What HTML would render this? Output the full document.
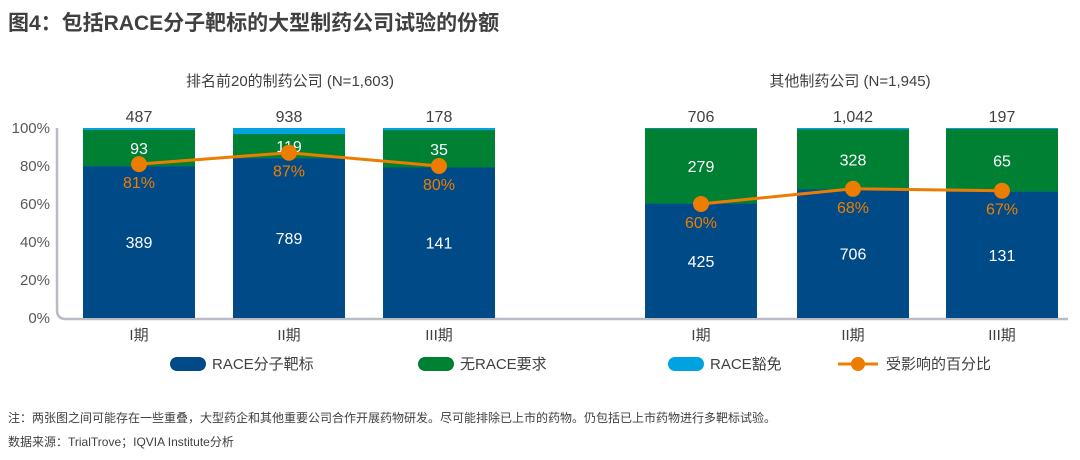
<!DOCTYPE html>
<html><head><meta charset="utf-8"><style>
body{margin:0;width:1080px;height:455px;background:#fff;overflow:hidden;font-family:"Liberation Sans","Noto Sans CJK SC",sans-serif}
svg text{font-family:"Liberation Sans","Noto Sans CJK SC",sans-serif}
</style></head><body>
<svg id="c" width="1080" height="455">
<text x="8" y="30" font-size="21" font-weight="bold" fill="#404040">图4：包括RACE分子靶标的大型制药公司试验的份额</text>
<text x="290" y="86" font-size="15" fill="#404040" text-anchor="middle">排名前20的制药公司 (N=1,603)</text>
<text x="850" y="86" font-size="15" fill="#404040" text-anchor="middle">其他制药公司 (N=1,945)</text>
<path d="M57,128 V310 Q57,319 66,319 H1068" stroke="#b8bcc4" stroke-width="2.5" fill="none"/>
<g id="g"></g>
<g>
<rect x="170" y="357" width="36" height="14" rx="7" fill="#004b87"/>
<text x="212" y="369" font-size="15" fill="#404040">RACE分子靶标</text>
<rect x="418" y="357" width="36" height="14" rx="7" fill="#008033"/>
<text x="460" y="369" font-size="15" fill="#404040">无RACE要求</text>
<rect x="668" y="357" width="36" height="14" rx="7" fill="#00a3e0"/>
<text x="710" y="369" font-size="15" fill="#404040">RACE豁免</text>
<line x1="838" y1="364" x2="878" y2="364" stroke="#ed7d00" stroke-width="3"/>
<circle cx="858" cy="364" r="7" fill="#ed7d00"/>
<text x="886" y="369" font-size="15" fill="#404040">受影响的百分比</text>
</g>
<text x="8" y="422" font-size="12" fill="#404040">注：两张图之间可能存在一些重叠，大型药企和其他重要公司合作开展药物研发。尽可能排除已上市的药物。仍包括已上市药物进行多靶标试验。</text>
<text x="8" y="446" font-size="12" fill="#404040">数据来源：TrialTrove；IQVIA Institute分析</text>
</svg>
<script>
const categories=["I期","II期","III期"];
const yTicks=[0,20,40,60,80,100];
const leftTotals=[487,938,178];
const leftRace=[389,789,141];
const leftNone=[93,119,35];
const leftPct=[81,87,80];
const rightTotals=[706,1042,197];
const rightRace=[425,706,131];
const rightNone=[279,328,65];
const rightPct=[60,68,67];
const leftBarX=[83,233,383], rightBarX=[645,797,946], barW=112;
const NS="http://www.w3.org/2000/svg", g=document.getElementById('g');
const y0=318, y100=128;
function y(p){return y0-(y0-y100)*p/100;}
function mk(t,a,txt){const e=document.createElementNS(NS,t);for(const k in a)e.setAttribute(k,a[k]);if(txt!==undefined)e.textContent=txt;g.appendChild(e);return e;}
yTicks.forEach(v=>{const e=mk('text',{x:50,y:y(v)+5,'font-size':15,fill:'#595959','text-anchor':'end'},v+'%');

});
function panel(side,xs,tot,race,none,pct){
 const pts=[];
 categories.forEach((c,i)=>{
  const x=xs[i], cx=x+barW/2;
  const pr=race[i]/tot[i]*100, pn=none[i]/tot[i]*100;
  let r=mk('rect',{x:x,y:y(100),width:barW,height:y0-y(100),fill:'#00a3e0'});
  
  
  r=mk('rect',{x:x,y:y(pr+pn),width:barW,height:y(pr)-y(pr+pn),fill:'#008033'});
  
  
  r=mk('rect',{x:x,y:y(pr),width:barW,height:y0-y(pr),fill:'#004b87'});
  
  
  let t=mk('text',{x:cx,y:y(pr/2)+6,'font-size':16,fill:'#fff','text-anchor':'middle'},race[i]);
  
  
  t=mk('text',{x:cx,y:y(pr+pn/2)+6,'font-size':16,fill:'#fff','text-anchor':'middle'},none[i]);
  
  
  t=mk('text',{x:cx,y:y(100)-6,'font-size':16,fill:'#404040','text-anchor':'middle'},tot[i].toLocaleString('en-US'));
  
  
  t=mk('text',{x:cx,y:340,'font-size':15,fill:'#404040','text-anchor':'middle'},c);
  
  
  pts.push([cx,y(pct[i])]);
 });
 const l=mk('polyline',{points:pts.map(p=>p.join(',')).join(' '),stroke:'#ed7d00','stroke-width':3,fill:'none'});
 
 
 pts.forEach((p,i)=>{
  const c=mk('circle',{cx:p[0],cy:p[1],r:8,fill:'#ed7d00'});
  
  
  const t=mk('text',{x:p[0],y:p[1]+24,'font-size':16,fill:'#ed7d00','text-anchor':'middle'},pct[i]+'%');
  
  
 });
}
panel('left',leftBarX,leftTotals,leftRace,leftNone,leftPct);
panel('right',rightBarX,rightTotals,rightRace,rightNone,rightPct);
</script>
</body></html>
